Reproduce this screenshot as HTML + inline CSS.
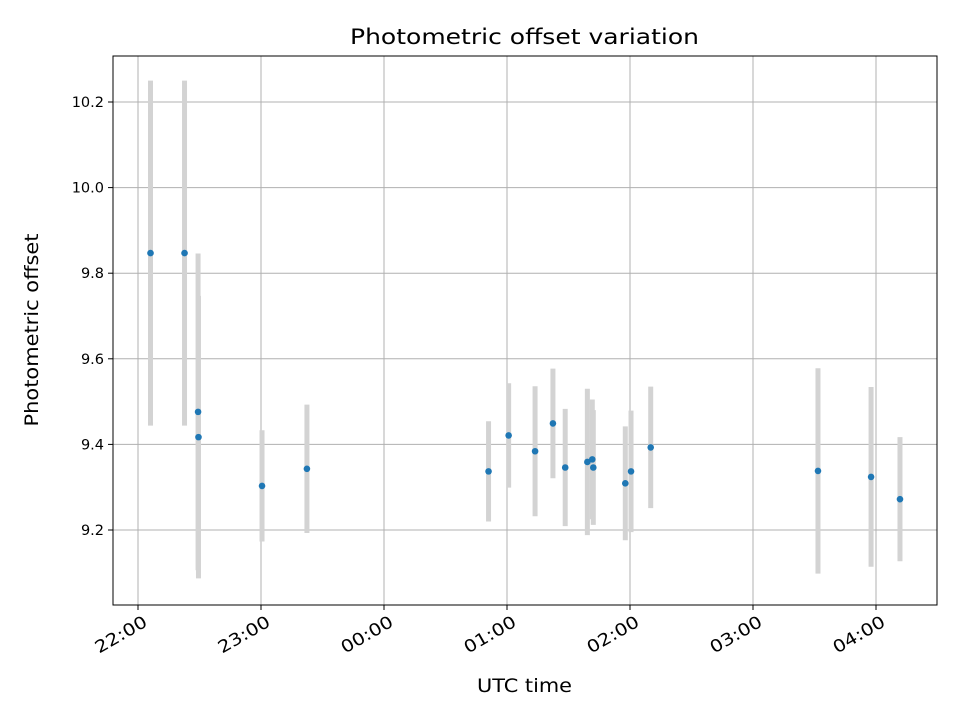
<!DOCTYPE html>
<html><head><meta charset="utf-8"><style>
body{margin:0;background:#fff}
svg text{font-family:"DejaVu Sans","Liberation Sans",sans-serif;fill:#000}
</style></head><body>
<svg id="chart" width="960" height="720" xmlns="http://www.w3.org/2000/svg">
<rect width="960" height="720" fill="#fff"/>
<g id="grid"></g>
<g id="bars"></g>
<g id="points"></g>
<rect x="113" y="56" width="824" height="549" fill="none" stroke="#000" stroke-width="1"/>
<g id="ticks"></g>
<text x="524.5" y="44" font-size="21" text-anchor="middle" textLength="349" lengthAdjust="spacingAndGlyphs">Photometric offset variation</text>
<text x="524.5" y="692" font-size="19" text-anchor="middle" textLength="95" lengthAdjust="spacingAndGlyphs">UTC time</text>
<text transform="translate(38,330) rotate(-90)" font-size="19" text-anchor="middle" textLength="193" lengthAdjust="spacingAndGlyphs">Photometric offset</text>
</svg>
<script>
// minutes after 22:00 UTC
const times=[6.1,22.7,29.3,29.5,60.5,82.4,171,180.8,193.7,202.4,208.4,219.2,221.6,222.1,237.7,240.5,250.1,331.7,357.6,371.7];
const offsets=[9.847,9.847,9.476,9.417,9.303,9.343,9.337,9.421,9.384,9.449,9.346,9.359,9.365,9.346,9.309,9.337,9.393,9.338,9.324,9.272];
const errors=[0.403,0.403,0.37,0.33,0.13,0.15,0.117,0.122,0.152,0.128,0.137,0.171,0.14,0.134,0.133,0.142,0.142,0.24,0.21,0.145];
const yTicks=[9.2,9.4,9.6,9.8,10.0,10.2];
const xTickMinutes=[0,60,120,180,240,300,360];
const xTickLabels=["22:00","23:00","00:00","01:00","02:00","03:00","04:00"];
const NS="http://www.w3.org/2000/svg";
const X=m=>138+m*123/60;
const Y=v=>530-(v-9.2)*428;
function mk(tag,attrs,parent){const e=document.createElementNS(NS,tag);for(const k in attrs)e.setAttribute(k,attrs[k]);document.getElementById(parent).appendChild(e);return e;}
yTicks.forEach((v,i)=>{
  const g=mk('line',{x1:113,x2:937,y1:Y(v),y2:Y(v),stroke:'#b0b0b0','stroke-width':1},'grid');
  
  
  const t=mk('line',{x1:108,x2:113,y1:Y(v),y2:Y(v),stroke:'#000'},'ticks');
  
  
  const l=mk('text',{x:104,y:Y(v)+5,'font-size':14.5,'text-anchor':'end'},'ticks');
  
  
  l.textContent=v.toFixed(1);
});
xTickMinutes.forEach((m,i)=>{
  const g=mk('line',{x1:X(m),x2:X(m),y1:56,y2:605,stroke:'#b0b0b0','stroke-width':1},'grid');
  
  
  const t=mk('line',{x1:X(m),x2:X(m),y1:605,y2:610,stroke:'#000'},'ticks');
  
  
  const l=mk('text',{transform:`translate(${X(m)+4},${614}) rotate(-30)`,'font-size':17,'text-anchor':'end',y:13,textLength:57,lengthAdjust:'spacingAndGlyphs'},'ticks');
  
  
  l.textContent=xTickLabels[i];
});
times.forEach((m,i)=>{
  const b=mk('line',{x1:X(m),x2:X(m),y1:Y(offsets[i]+errors[i]),y2:Y(offsets[i]-errors[i]),stroke:'#d3d3d3','stroke-width':5},'bars');
  
  
});
times.forEach((m,i)=>{
  const p=mk('circle',{cx:X(m),cy:Y(offsets[i]),r:3.3,fill:'#1f77b4'},'points');
  
  
});
</script>
</body></html>
